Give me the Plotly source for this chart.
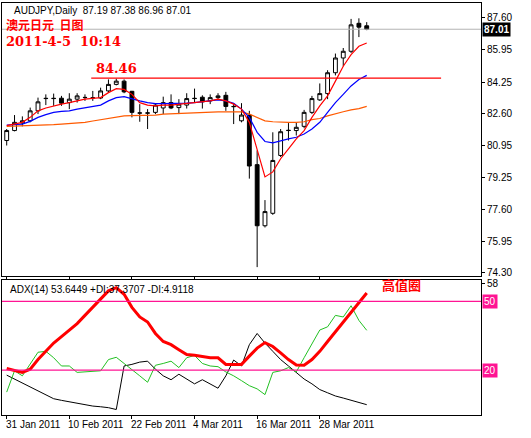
import plotly.graph_objects as go
from plotly.subplots import make_subplots

# daily bars, 31 Jan 2011 .. 5 Apr 2011 (index based x axis)
dates = ["31 Jan 2011", "10 Feb 2011", "22 Feb 2011", "4 Mar 2011", "16 Mar 2011", "28 Mar 2011"]
date_idx = [0, 8, 16, 24, 32, 40]

opens = [81.2, 81.72, 82.11, 82.23, 82.75, 83.39, 83.39, 83.41, 83.18, 83.36, 83.44, 83.42, 83.42, 83.79, 84.13, 84.3,
         83.77, 82.63, 82.63, 82.67, 82.9, 83.18, 82.92, 83.05, 83.39, 83.46, 83.27, 83.44, 83.56, 82.98, 82.23, 82.53,
         79.94, 76.75, 77.4, 80.42, 81.72, 81.72, 81.94, 82.67, 83.32, 83.65, 84.74, 85.51, 85.86, 87.32, 87.19]
highs = [81.8, 82.53, 82.46, 82.92, 83.44, 83.61, 83.65, 83.53, 83.67, 83.67, 83.61, 83.79, 83.96, 84.39, 84.43, 84.39,
         83.79, 83.1, 82.84, 83.1, 83.49, 83.61, 83.36, 83.67, 83.91, 83.56, 83.61, 83.67, 83.74, 83.15, 83.15, 82.75,
         80.68, 78.09, 81.63, 81.8, 82.11, 82.15, 82.8, 83.53, 84.18, 84.87, 85.74, 86.03, 87.55, 87.58, 87.38]
lows = [80.94, 81.68, 81.94, 82.15, 82.58, 83.05, 83.01, 83.01, 82.84, 83.18, 83.27, 83.27, 83.36, 83.7, 84.08, 83.67,
        82.41, 82.18, 81.8, 82.58, 82.58, 82.84, 82.58, 82.87, 83.18, 82.87, 83.1, 83.36, 82.75, 82.06, 82.15, 79.21,
        74.59, 76.66, 77.32, 80.34, 81.2, 81.46, 81.84, 82.58, 83.27, 83.36, 84.6, 85.08, 85.77, 86.6, 86.96]
closes = [81.72, 82.15, 82.23, 82.75, 83.22, 83.4, 83.4, 83.15, 83.36, 83.53, 83.45, 83.43, 83.79, 84.13, 84.3, 83.74,
          82.67, 82.64, 82.64, 83.05, 83.18, 82.9, 83.1, 83.39, 83.4, 83.22, 83.44, 83.53, 82.98, 82.97, 82.53, 79.87,
          76.75, 77.49, 80.16, 81.66, 81.73, 81.89, 82.67, 83.39, 83.65, 84.74, 85.51, 85.86, 87.24, 87.12, 87.01]

ma_red = [81.98, 82.05, 82.15, 82.41, 82.75, 82.9, 83.01, 83.1, 83.18, 83.27, 83.36, 83.4, 83.44, 83.7, 83.91, 83.87,
          83.61, 83.18, 83.05, 83.01, 83.05, 83.05, 83.1, 83.15, 83.18, 83.22, 83.27, 83.36, 83.27, 83.1, 82.84, 82.15,
          80.68, 79.3, 79.56, 80.25, 80.77, 81.29, 81.72, 82.41, 83.01, 83.53, 84.3, 85.08, 85.68, 86.12, 86.29]
ma_blue = [82.01, 82.03, 82.06, 82.2, 82.41, 82.55, 82.67, 82.72, 82.75, 82.84, 82.92, 82.98, 83.05, 83.27, 83.44, 83.49,
           83.36, 83.27, 83.18, 83.13, 83.13, 83.13, 83.15, 83.15, 83.18, 83.22, 83.27, 83.32, 83.27, 83.15, 82.84, 82.41,
           81.63, 81.15, 81.08, 81.2, 81.29, 81.37, 81.54, 81.8, 82.15, 82.67, 83.18, 83.61, 84.05, 84.39, 84.6]
ma_orange = [81.94, 81.95, 81.96, 81.97, 81.98, 82.0, 82.03, 82.06, 82.09, 82.12, 82.15, 82.22, 82.29, 82.35, 82.42, 82.49,
             82.5, 82.51, 82.52, 82.53, 82.58, 82.6, 82.62, 82.64, 82.66, 82.68, 82.69, 82.7, 82.7, 82.7, 82.7, 82.58,
             82.41, 82.23, 82.18, 82.15, 82.15, 82.15, 82.18, 82.29, 82.35, 82.49, 82.58, 82.7, 82.8, 82.87, 82.98]

adx = [20.7, 19.7, 19.0, 20.4, 24.6, 28.2, 31.8, 34.6, 37.5, 40.3, 43.9, 47.4, 51.0, 54.6, 56.0, 53.1,
       47.4, 43.2, 41.0, 36.0, 32.5, 31.1, 28.9, 26.8, 26.5, 26.1, 25.4, 25.4, 22.5, 22.5, 22.5, 26.1,
       29.6, 32.0, 30.3, 27.5, 24.6, 22.2, 22.1, 24.6, 28.2, 32.5, 36.8, 41.0, 45.3, 49.6, 53.64]
plus_di = [10.4, 19.7, 17.5, 22.5, 27.8, 28.2, 25.4, 21.8, 21.8, 19.0, 19.2, 19.7, 19.7, 24.6, 25.6, 22.9,
           20.4, 17.5, 14.7, 22.1, 22.9, 23.9, 21.1, 25.4, 26.4, 22.9, 21.8, 21.5, 19.2, 17.5, 15.4, 13.2,
           11.8, 9.3, 19.0, 19.7, 21.1, 19.2, 25.4, 31.8, 37.5, 38.9, 43.9, 43.2, 48.1, 41.7, 37.37]
minus_di = [17.8, 16.1, 14.4, 12.5, 10.7, 9.3, 7.5, 6.8, 6.1, 5.4, 4.7, 4.3, 4.0, 3.6, 2.8, 21.8,
            22.5, 23.5, 23.9, 20.4, 17.5, 15.8, 18.2, 16.1, 14.0, 15.8, 14.0, 12.1, 17.5, 24.4, 21.8, 31.1,
            36.0, 31.8, 28.2, 24.6, 21.8, 19.0, 16.1, 14.0, 11.5, 10.1, 8.7, 7.8, 6.8, 6.1, 4.91]

price_ticks = [87.60, 85.95, 84.25, 82.60, 80.95, 79.25, 77.60, 75.95, 74.30]
resistance = 84.46
last_price = 87.01

x = list(range(len(opens)))
font = "Liberation Sans"

fig = make_subplots(rows=2, cols=1, shared_xaxes=True)

fig.add_trace(go.Scatter(x=x, y=ma_orange, mode="lines", line=dict(color="#ff5a00", width=1.2)), row=1, col=1)
fig.add_trace(go.Scatter(x=x, y=ma_blue, mode="lines", line=dict(color="#0000ff", width=1.2)), row=1, col=1)
fig.add_trace(go.Scatter(x=x, y=ma_red, mode="lines", line=dict(color="#ff0000", width=1.2)), row=1, col=1)
fig.add_trace(go.Candlestick(
    x=x, open=opens, high=highs, low=lows, close=closes, whiskerwidth=0,
    increasing=dict(fillcolor="white", line=dict(color="black", width=1)),
    decreasing=dict(fillcolor="black", line=dict(color="black", width=1)),
), row=1, col=1)
fig.add_trace(go.Scatter(x=[10.8, 55.5], y=[resistance, resistance], mode="lines",
                         line=dict(color="#ff0000", width=1.2)), row=1, col=1)

fig.add_trace(go.Scatter(x=x, y=minus_di, mode="lines", line=dict(color="black", width=1)), row=2, col=1)
fig.add_trace(go.Scatter(x=x, y=plus_di, mode="lines", line=dict(color="#22c022", width=1)), row=2, col=1)
fig.add_trace(go.Scatter(x=x, y=adx, mode="lines", line=dict(color="#ff0000", width=3)), row=2, col=1)

fig.add_hline(y=last_price, line=dict(color="#b4b4b4", width=1), row=1, col=1)
for lvl in [50, 20]:
    fig.add_hline(y=lvl, line=dict(color="#ff1493", width=1.2), row=2, col=1)

fig.update_xaxes(range=[-0.6, 60.6], showgrid=False, zeroline=False, showline=True, linecolor="black", mirror=True,
                 tickvals=date_idx, ticktext=[""] * len(dates), ticks="outside", ticklen=3, tickcolor="black",
                 rangeslider_visible=False)
fig.update_xaxes(showticklabels=False, row=1, col=1)
fig.update_yaxes(side="right", showgrid=False, zeroline=False, showline=True, linecolor="black", mirror=True,
                 ticks="outside", ticklen=3, tickcolor="black", tickfont=dict(size=10, color="black", family=font))
fig.update_yaxes(domain=[0.338, 1], range=[74.14, 88.38], tickvals=price_ticks,
                 ticktext=[f"{v:.2f}" for v in price_ticks], row=1, col=1)
fig.update_yaxes(domain=[0, 0.328], range=[0.4, 59.4], tickvals=[0, 58], ticktext=["0", "58"], row=2, col=1)

annotations = [
    dict(xref="paper", yref="paper", x=0.02, y=0.983, xanchor="left", yanchor="middle",
         text="AUDJPY,Daily  87.19 87.38 86.96 87.01", font=dict(size=10, color="black", family=font)),
    dict(xref="paper", yref="paper", x=0.005, y=0.949, xanchor="left", yanchor="middle",
         text="<b>澳元日元  日图</b>", font=dict(size=12, color="#ff0000", family="Noto Sans CJK SC")),
    dict(xref="paper", yref="paper", x=0.005, y=0.907, xanchor="left", yanchor="middle",
         text="<b>2011-4-5  10:14</b>", font=dict(size=13, color="#ff0000", family="DejaVu Serif")),
    dict(x=14.0, y=resistance, xref="x", yref="y", yanchor="bottom", showarrow=False,
         text="<b>84.46</b>", font=dict(size=13, color="#ff0000", family="DejaVu Serif")),
    dict(xref="paper", yref="paper", x=0.012, y=0.322, xanchor="left", yanchor="top",
         text="ADX(14) 53.6449 +DI:37.3707 -DI:4.9118", font=dict(size=10, color="black", family=font)),
    dict(x=50.5, y=57.5, xref="x", yref="y2", xanchor="center", showarrow=False,
         text="<b>高值圈</b>", font=dict(size=13, color="#ff0000", family="Noto Sans CJK SC")),
    dict(xref="paper", x=1.003, y=last_price, yref="y", xanchor="left", showarrow=False, bgcolor="black",
         text="<b>87.01</b>", font=dict(size=10, color="white", family=font), borderpad=1),
]
for lvl in [50, 20]:
    annotations.append(dict(xref="paper", x=1.003, y=lvl, yref="y2", xanchor="left", showarrow=False,
                            bgcolor="#ff1493", text=str(lvl), font=dict(size=10, color="white", family=font),
                            borderpad=1))
for i, d in zip(date_idx, dates):
    annotations.append(dict(x=i - 0.4, y=-0.005, xref="x2", yref="paper", xanchor="left", yanchor="top",
                            text=d, font=dict(size=10, color="black", family=font)))
for a in annotations:
    a.setdefault("showarrow", False)
    fig.add_annotation(**a)

fig.update_layout(width=531, height=438, margin=dict(l=2, r=50, t=3, b=23), showlegend=False,
                  plot_bgcolor="white", paper_bgcolor="white")
fig.write_html("out.html", config={"displayModeBar": False})

with open("out.html") as f:
    page = f.read()
page = page.replace("<body>", '<body style="margin:0">', 1)
with open("out.html", "w") as f:
    f.write(page)
